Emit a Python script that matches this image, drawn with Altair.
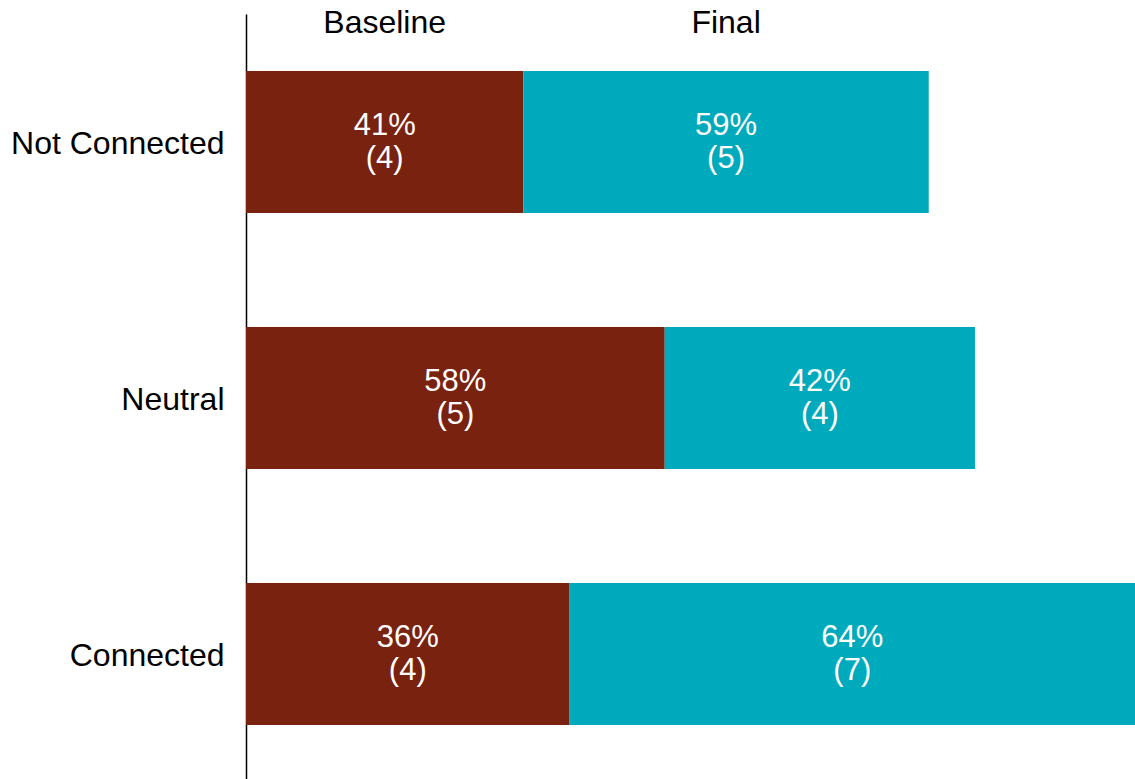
import altair as alt
import pandas as pd

categories = ["Not Connected", "Neutral", "Connected"]
series = ["Baseline", "Final"]
# bar lengths (relative units, Connected total = 100)
baseline_vals = [31.2, 47.1, 36.4]
final_vals = [45.6, 34.9, 63.6]
baseline_pct = ["41%", "58%", "36%"]
final_pct = ["59%", "42%", "64%"]
baseline_n = [4, 5, 4]
final_n = [5, 4, 7]

rows = []
for i, c in enumerate(categories):
    b0, b1 = 0, baseline_vals[i]
    f0, f1 = b1, b1 + final_vals[i]
    rows.append(dict(cat=c, series="Baseline", start=b0, end=b1, mid=(b0 + b1) / 2,
                     label=f"{baseline_pct[i]}\n({baseline_n[i]})"))
    rows.append(dict(cat=c, series="Final", start=f0, end=f1, mid=(f0 + f1) / 2,
                     label=f"{final_pct[i]}\n({final_n[i]})"))
df = pd.DataFrame(rows)

FONT = "Liberation Sans"
FS = 31

xs = alt.Scale(domain=[0, 100], nice=False, zero=True)
ys = alt.Scale(domain=categories, paddingInner=0.4453, paddingOuter=0.2168, align=0.5135)

base = alt.Chart(df)

bars = base.mark_bar().encode(
    x=alt.X("start:Q", scale=xs, axis=None),
    x2="end:Q",
    y=alt.Y("cat:N", scale=ys, sort=categories,
            axis=alt.Axis(title=None, ticks=False, labelPadding=22, labelFontSize=32,
                          labelOffset=2, labelFont=FONT, labelColor="#000000",
                          domainColor="#000000", domainWidth=1.5, labelLimit=400)),
    color=alt.Color("series:N", scale=alt.Scale(domain=series, range=["#78220F", "#00AABD"]),
                    legend=None),
)

labels = base.mark_text(color="white", font=FONT, fontSize=FS, lineBreak="\n",
                        lineHeight=33, baseline="middle", align="center", dy=-16).encode(
    x=alt.X("mid:Q", scale=xs),
    y=alt.Y("cat:N", scale=ys, sort=categories),
    text="label:N",
)

headers = base.transform_filter(alt.datum.cat == categories[0]).mark_text(
    color="black", font=FONT, fontSize=32, baseline="middle", align="center").encode(
    x=alt.X("mid:Q", scale=xs),
    y=alt.value(9),
    text="series:N",
)

chart = alt.layer(bars, labels, headers).properties(
    width=889, height=765,
    autosize=alt.AutoSizeParams(type="none"),
    padding={"left": 246, "top": 14, "right": 0, "bottom": 0},
).configure_view(stroke=None)

chart.save("out.html", embed_options={"renderer": "svg", "actions": False})
